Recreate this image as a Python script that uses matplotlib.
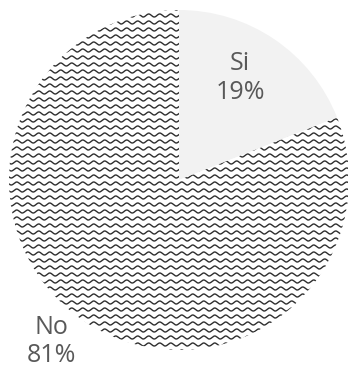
import numpy as np
import matplotlib
matplotlib.use("Agg")
import matplotlib.pyplot as plt

labels = ["Si", "No"]
values = [19, 81]
face_colors = ["#f2f2f2", "white"]

W, H = 348, 370
fig = plt.figure(figsize=(W / 100, H / 100), dpi=100)
cx, cy, r = 179, 190, 170  # pixel center (y from bottom), radius
ax = fig.add_axes([(cx - r) / W, (cy - r) / H, 2 * r / W, 2 * r / H])
ax.set_xlim(-1, 1)
ax.set_ylim(-1, 1)
ax.set_aspect("equal")
ax.axis("off")

wedges, _ = ax.pie(values, colors=face_colors, startangle=90, counterclock=False,
                   radius=1, center=(0, 0), frame=False,
                   wedgeprops=dict(linewidth=0))
ax.set_xlim(-1, 1)
ax.set_ylim(-1, 1)

# wave hatch texture for the "No" wedge
px = 1 / r
period = 11 * px
amp = 1.5 * px
spacing = 7 * px
xs = np.linspace(-1.05, 1.05, 1200)
for y0 in np.arange(-1.05, 1.05, spacing):
    ln, = ax.plot(xs, y0 + amp * np.sin(2 * np.pi * xs / period), color="#2e2e2e",
                  lw=1.0, solid_capstyle="butt")
    ln.set_clip_path(wedges[1])

label_pos = [(0.36, 0.60), (-0.75, -0.95)]
for lab, v, (x, y) in zip(labels, values, label_pos):
    ax.text(x, y, f"{lab}\n{v}%", ha="center", va="center", fontsize=18,
            family="Open Sans", color="#595959", linespacing=1.2)

fig.savefig("out.png", dpi=100)
